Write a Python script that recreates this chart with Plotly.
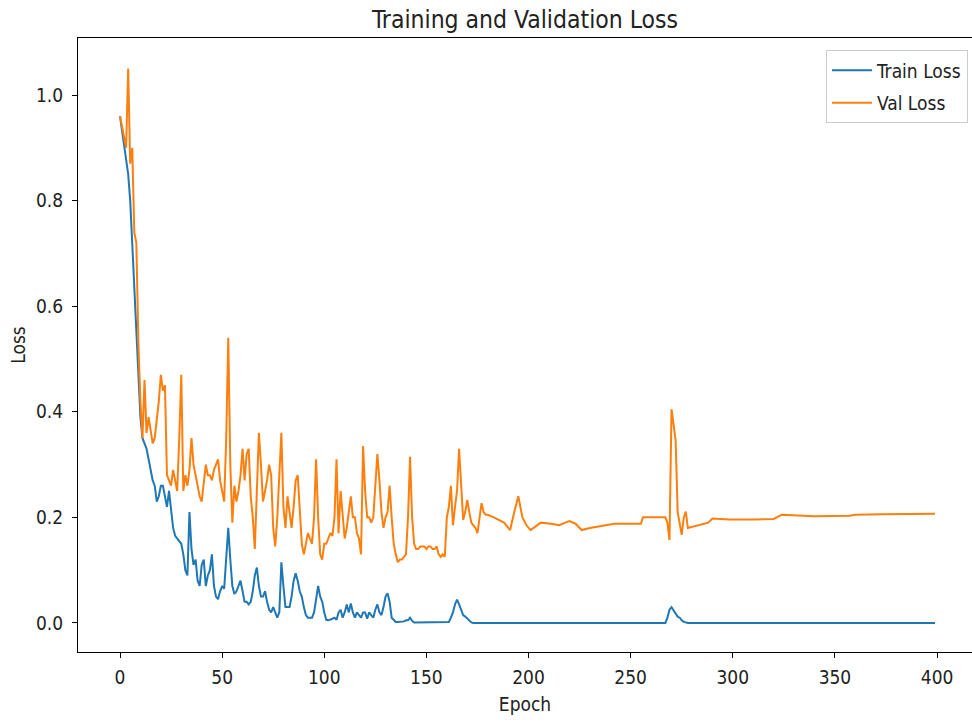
import plotly.graph_objects as go

# ---- data ----
train_epochs = list(range(0, 181)) + [267, 268, 269, 270, 271, 272, 273, 274, 275, 276, 278, 399]
train_loss = [
    0.96, 0.93, 0.90, 0.87, 0.85, 0.80, 0.72, 0.63, 0.54, 0.46,
    0.39, 0.35, 0.34, 0.33, 0.31, 0.29, 0.27, 0.26, 0.23, 0.24,
    0.26, 0.26, 0.24, 0.22, 0.25, 0.22, 0.18, 0.165, 0.16, 0.155,
    0.15, 0.13, 0.10, 0.09, 0.21, 0.14, 0.11, 0.12, 0.08, 0.07,
    0.11, 0.12, 0.07, 0.09, 0.10, 0.13, 0.07, 0.05, 0.045, 0.06,
    0.07, 0.065, 0.12, 0.18, 0.12, 0.07, 0.055, 0.06, 0.07, 0.08,
    0.06, 0.04, 0.04, 0.035, 0.04, 0.06, 0.09, 0.105, 0.07, 0.05,
    0.05, 0.06, 0.04, 0.025, 0.02, 0.03, 0.02, 0.01, 0.02, 0.115,
    0.07, 0.03, 0.03, 0.03, 0.05, 0.08, 0.094, 0.08, 0.06, 0.05,
    0.03, 0.015, 0.01, 0.01, 0.01, 0.02, 0.05, 0.07, 0.05, 0.04,
    0.02, 0.006, 0.005, 0.006, 0.008, 0.01, 0.006, 0.02, 0.025, 0.01,
    0.02, 0.035, 0.02, 0.037, 0.02, 0.01, 0.02, 0.015, 0.01, 0.02,
    0.02, 0.008, 0.02, 0.015, 0.01, 0.025, 0.035, 0.02, 0.015, 0.03,
    0.05, 0.056, 0.04, 0.01, 0.005, 0.002, 0.002, 0.002, 0.002, 0.003,
    0.005, 0.005, 0.01, 0.004, 0.001, 0.001, 0.001, 0.001, 0.001, 0.001,
    0.001, 0.001, 0.001, 0.001, 0.001, 0.001, 0.001, 0.001, 0.001, 0.001,
    0.001, 0.002, 0.01, 0.02, 0.035, 0.044, 0.035, 0.025, 0.015, 0.012,
    0.008, 0.004, 0.001, 0.0, 0.0, 0.0, 0.0, 0.0, 0.0, 0.0,
    0.0,
    0.0, 0.01, 0.025, 0.03, 0.025, 0.018, 0.012, 0.01, 0.005, 0.002, 0.0, 0.0,
]

val_epochs = list(range(0, 181)) + [
    183, 188, 191, 193, 195, 197, 199, 201, 204, 206, 211, 215, 218, 220, 223,
    226, 230, 237, 242, 250, 255, 256, 265, 267, 268, 269, 270, 271, 272, 273,
    274, 275, 276, 277, 278, 280, 282, 285, 288, 290, 298, 311, 320, 324, 340,
    357, 360, 373, 399,
]
val_loss = [
    0.96, 0.94, 0.92, 0.90, 1.05, 0.87, 0.90, 0.74, 0.72, 0.53,
    0.42, 0.35, 0.46, 0.36, 0.39, 0.36, 0.34, 0.35, 0.38, 0.42,
    0.47, 0.44, 0.45, 0.28, 0.27, 0.26, 0.29, 0.27, 0.25, 0.35,
    0.47, 0.25, 0.28, 0.26, 0.29, 0.35, 0.30, 0.28, 0.26, 0.24,
    0.23, 0.26, 0.30, 0.28, 0.28, 0.27, 0.29, 0.30, 0.31, 0.27,
    0.25, 0.23, 0.35, 0.54, 0.30, 0.19, 0.26, 0.23, 0.25, 0.28,
    0.33, 0.27, 0.32, 0.33, 0.24, 0.20, 0.14, 0.27, 0.36, 0.30,
    0.23, 0.25, 0.27, 0.30, 0.28, 0.18, 0.145, 0.20, 0.28, 0.36,
    0.22, 0.18, 0.24, 0.21, 0.18, 0.22, 0.27, 0.28, 0.22, 0.15,
    0.13, 0.15, 0.17, 0.16, 0.15, 0.20, 0.31, 0.20, 0.13, 0.12,
    0.15, 0.15, 0.16, 0.17, 0.165, 0.20, 0.31, 0.17, 0.25, 0.20,
    0.16, 0.18, 0.21, 0.24, 0.20, 0.20, 0.17, 0.16, 0.13, 0.335,
    0.25, 0.20, 0.20, 0.19, 0.20, 0.26, 0.32, 0.27, 0.21, 0.18,
    0.20, 0.21, 0.26, 0.20, 0.15, 0.13, 0.115, 0.12, 0.12, 0.125,
    0.13, 0.20, 0.315, 0.20, 0.15, 0.14, 0.14, 0.145, 0.145, 0.145,
    0.14, 0.145, 0.145, 0.14, 0.14, 0.145, 0.13, 0.125, 0.13, 0.125,
    0.20, 0.22, 0.26, 0.185, 0.22, 0.25, 0.33, 0.26, 0.195, 0.21,
    0.233, 0.21, 0.19, 0.185, 0.18, 0.17, 0.20, 0.227, 0.21, 0.205,
    0.205,
    0.20, 0.19, 0.176, 0.21, 0.24, 0.20, 0.185, 0.176, 0.185, 0.19, 0.188, 0.185, 0.19, 0.193, 0.188,
    0.176, 0.18, 0.185, 0.188, 0.188, 0.188, 0.20, 0.20, 0.20, 0.19, 0.157, 0.405, 0.37, 0.347, 0.21,
    0.19, 0.167, 0.20, 0.211, 0.18, 0.182, 0.185, 0.188, 0.19, 0.198, 0.196, 0.196, 0.197, 0.205, 0.202,
    0.203, 0.205, 0.206, 0.207,
]

x_ticks = [0, 50, 100, 150, 200, 250, 300, 350, 400]
y_ticks = [0.0, 0.2, 0.4, 0.6, 0.8, 1.0]

FONT = "DejaVu Sans Condensed, DejaVu Sans, sans-serif"
TXT = "#222222"

fig = go.Figure()
fig.add_trace(go.Scatter(x=train_epochs, y=train_loss, mode="lines", name="Train Loss",
                         legendgroup="a", line=dict(color="#1f77b4", width=2)))
fig.add_trace(go.Scatter(x=val_epochs, y=val_loss, mode="lines", name="Val Loss",
                         legendgroup="b", line=dict(color="#ff7f0e", width=2)))

axis_common = dict(showline=True, mirror=True, linecolor="black", linewidth=1,
                   ticks="outside", ticklen=5, tickcolor="black", showgrid=False,
                   zeroline=False, automargin=False,
                   tickfont=dict(family=FONT, size=19, color=TXT))

fig.update_layout(
    width=972, height=722,
    margin=dict(l=78, r=0, t=38, b=70),
    paper_bgcolor="white", plot_bgcolor="white",
    font=dict(family=FONT, size=19, color=TXT),
    title=dict(text="Training and Validation Loss", x=0.5, xref="paper", xanchor="center",
               y=1 - 19 / 722, yref="container", yanchor="middle",
               font=dict(family=FONT, size=24.5, color=TXT)),
    xaxis=dict(range=[-20.56, 417.1], tickvals=x_ticks, ticklabelstandoff=3,
               title=dict(text="Epoch", standoff=10, font=dict(family=FONT, size=19, color=TXT)),
               **axis_common),
    yaxis=dict(range=[-0.055, 1.108], tickvals=y_ticks, tickformat=".1f", ticklabelstandoff=5,
               title=dict(text="Loss", standoff=5, font=dict(family=FONT, size=19, color=TXT)),
               **axis_common),
    legend=dict(x=0.9955, y=0.980, xanchor="right", yanchor="top",
                bgcolor="rgba(255,255,255,0.9)", bordercolor="#cccccc", borderwidth=1,
                font=dict(family=FONT, size=19, color=TXT), itemwidth=40,
                tracegroupgap=5),
    showlegend=True,
)

fig.write_html("out.html", config={"displayModeBar": False},
               post_script="document.body.style.margin='0';document.body.style.overflow='hidden';")
